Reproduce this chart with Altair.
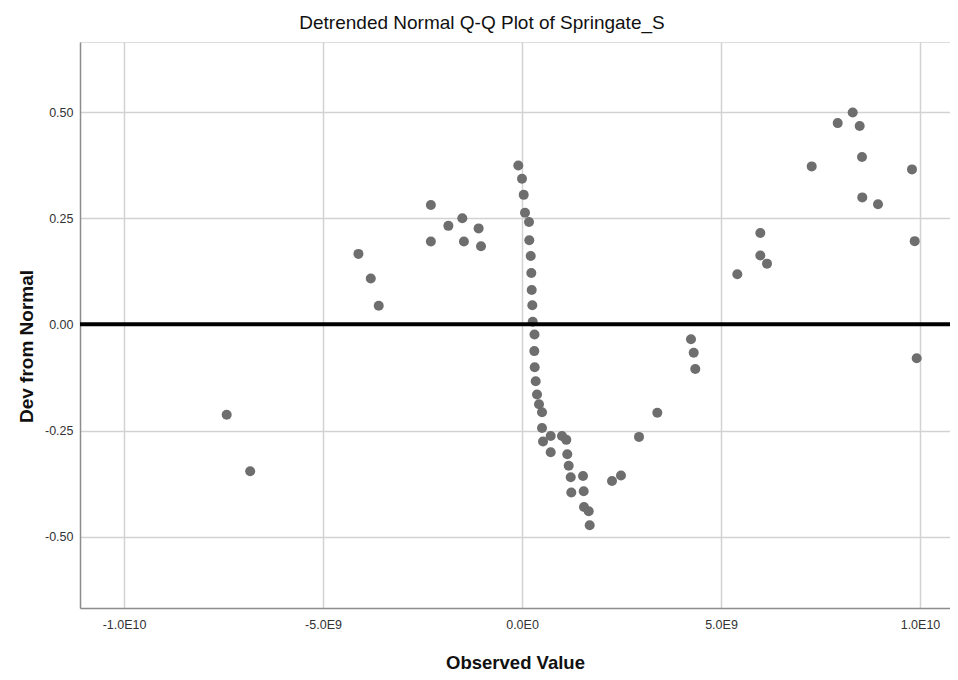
import altair as alt
import pandas as pd

observed = [-7.42e9, -6.83e9, -4.11e9, -3.80e9, -3.60e9, -2.29e9, -2.29e9, -1.85e9,
            -1.50e9, -1.46e9, -1.09e9, -1.03e9,
            -9.3e7, 0.0, 4.3e7, 7.5e7, 1.76e8, 1.83e8, 2.19e8, 2.34e8, 2.44e8, 2.59e8,
            2.69e8, 3.14e8, 3.09e8, 3.19e8, 3.44e8, 3.77e8, 4.27e8, 5.03e8, 5.03e8, 5.28e8,
            7.21e8, 7.21e8, 1.005e9, 1.113e9, 1.138e9, 1.173e9, 1.224e9, 1.239e9, 1.533e9,
            1.550e9, 1.558e9, 1.676e9, 1.701e9, 2.261e9, 2.487e9, 2.940e9, 3.400e9,
            4.246e9, 4.314e9, 4.354e9,
            5.410e9, 5.988e9, 5.988e9, 6.156e9, 7.279e9, 7.932e9, 8.309e9, 8.485e9,
            8.543e9, 8.550e9, 8.945e9, 9.799e9, 9.867e9, 9.917e9]
deviation = [-0.213, -0.346, 0.166, 0.108, 0.044, 0.281, 0.195, 0.232, 0.250, 0.195,
             0.226, 0.184,
             0.374, 0.343, 0.305, 0.263, 0.241, 0.198, 0.161, 0.121, 0.081, 0.045,
             0.006, -0.024, -0.063, -0.101, -0.134, -0.165, -0.188, -0.207, -0.244, -0.276,
             -0.263, -0.301, -0.263, -0.272, -0.306, -0.333, -0.360, -0.396, -0.357,
             -0.393, -0.430, -0.440, -0.473, -0.369, -0.356, -0.265, -0.208,
             -0.035, -0.067, -0.105,
             0.118, 0.215, 0.162, 0.143, 0.372, 0.474, 0.499, 0.467,
             0.394, 0.299, 0.283, 0.365, 0.196, -0.080]

x_ticks = [-1e10, -5e9, 0, 5e9, 1e10]
y_ticks = [-0.5, -0.25, 0.0, 0.25, 0.5]
reference_line = [0.0]

pts = pd.DataFrame({"x": observed, "y": deviation})
ref = pd.DataFrame({"y": reference_line})

FONT = "Liberation Sans"

x_scale = alt.Scale(domain=[-1.1106e10, 1.0754e10], nice=False, zero=False)
y_scale = alt.Scale(domain=[-0.668, 0.665], nice=False, zero=False)

x_axis = alt.Axis(
    title="Observed Value", values=x_ticks, ticks=False,
    labelExpr="replace(replace(replace(format(datum.value, '.1e'), 'e+', 'E'), 'e', 'E'), '\u2212', '-')",
    labelFont=FONT, labelFontSize=12.5, labelColor="#333333", labelPadding=10,
    titleFont=FONT, titleFontSize=18.5, titleFontWeight="bold", titleColor="#111111",
    titlePadding=23, grid=True, gridColor="#d2d2d2", gridWidth=1.5,
    domainColor="#8c8c8c", domainWidth=1.5, labelFlush=False,
)
y_axis = alt.Axis(
    title="Dev from Normal", values=y_ticks, ticks=False,
    labelExpr="replace(format(datum.value, '.2f'), '\u2212', '-')",
    labelFont=FONT, labelFontSize=12.5, labelColor="#333333", labelPadding=7,
    titleFont=FONT, titleFontSize=19, titleFontWeight="bold", titleColor="#111111",
    titleX=-44, titleY=304,
    grid=True, gridColor="#d2d2d2", gridWidth=1.5,
    domainColor="#8c8c8c", domainWidth=1.5,
)

points = alt.Chart(pts).mark_point(
    filled=True, size=100, color="#6e6e6e", opacity=1, shape="circle"
).encode(
    x=alt.X("x:Q", scale=x_scale, axis=x_axis),
    y=alt.Y("y:Q", scale=y_scale, axis=y_axis),
)

rule = alt.Chart(ref).mark_rule(color="black", strokeWidth=4).encode(
    y=alt.Y("y:Q", scale=y_scale)
)

chart = alt.layer(points, rule).properties(
    width=870, height=566,
    title=alt.TitleParams(
        "Detrended Normal Q-Q Plot of Springate_S", font=FONT, fontSize=19,
        fontWeight="normal", color="#111111", anchor="middle", frame="group",
        dx=-33, offset=9,
    ),
    autosize=alt.AutoSizeParams(type="none"),
    padding={"left": 72, "top": 34, "right": 0, "bottom": 68},
).configure_view(stroke=None).configure(background="white")

chart.save("out.html", embed_options={"renderer": "svg", "actions": False})
